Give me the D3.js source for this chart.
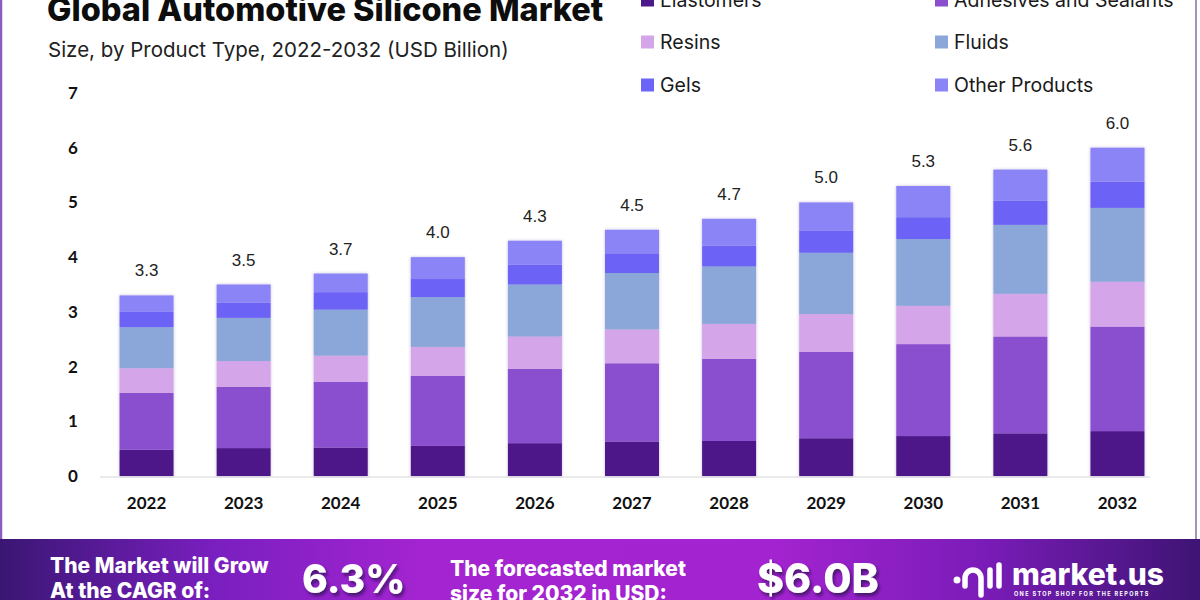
<!DOCTYPE html>
<html>
<head>
<meta charset="utf-8">
<script src="https://cdn.jsdelivr.net/npm/d3@7"></script>
<style>
  html, body { margin: 0; padding: 0; background: #fff; }
  svg { display: block; }
</style>
</head>
<body>
<svg id="chart" width="1200" height="600"></svg>
<script>
// ---------- DATA ----------
const years = ["2022","2023","2024","2025","2026","2027","2028","2029","2030","2031","2032"];
const totals = [3.3, 3.5, 3.7, 4.0, 4.3, 4.5, 4.7, 5.0, 5.3, 5.6, 6.0];
const elastomers = [0.48, 0.51, 0.52, 0.55, 0.60, 0.63, 0.64, 0.69, 0.73, 0.78, 0.82];
const adhesives  = [1.04, 1.12, 1.20, 1.28, 1.36, 1.43, 1.50, 1.58, 1.68, 1.77, 1.91];
const resins     = [0.45, 0.47, 0.48, 0.53, 0.59, 0.62, 0.64, 0.69, 0.70, 0.78, 0.82];
const fluids     = [0.75, 0.79, 0.84, 0.91, 0.95, 1.03, 1.05, 1.12, 1.22, 1.26, 1.35];
const gels       = [0.28, 0.28, 0.32, 0.33, 0.36, 0.36, 0.38, 0.40, 0.40, 0.44, 0.48];
const others     = [0.30, 0.33, 0.34, 0.40, 0.44, 0.43, 0.49, 0.52, 0.57, 0.57, 0.62];
const seriesNames = ["Elastomers", "Adhesives and Sealants", "Resins", "Fluids", "Gels", "Other Products"];
const seriesColors = ["#4d1889", "#8a4fcf", "#d5a5ea", "#8ba6d8", "#6c64f6", "#8b84f7"];
const yTicks = [0, 1, 2, 3, 4, 5, 6, 7];
const title = "Global Automotive Silicone Market";
const subtitle = "Size, by Product Type, 2022-2032 (USD Billion)";
const cagrText = ["The Market will Grow", "At the CAGR of:"];
const cagrValue = "6.3%";
const forecastText = ["The forecasted market", "size for 2032 in USD:"];
const forecastValue = "$6.0B";

// ---------- BUILD ----------
const seriesValues = [elastomers, adhesives, resins, fluids, gels, others];
const rows = years.map((y, i) => {
  const r = { year: y };
  seriesNames.forEach((s, k) => r[s] = seriesValues[k][i]);
  return r;
});
const stacked = d3.stack().keys(seriesNames)(rows);

const svg = d3.select("#chart");
const defs = svg.append("defs");

// banner gradient
const grad = defs.append("linearGradient").attr("id", "bannerGrad")
  .attr("x1", "0%").attr("x2", "100%").attr("y1", "0%").attr("y2", "0%");
[["0%", "#3a1673"], ["18%", "#7a1fc0"], ["35%", "#a324d0"], ["65%", "#a223cf"], ["82%", "#7a1cb8"], ["100%", "#3e1474"]]
  .forEach(([o, c]) => grad.append("stop").attr("offset", o).attr("stop-color", c));

const shadow = defs.append("filter").attr("id", "txtShadow").attr("x", "-20%").attr("y", "-20%").attr("width", "140%").attr("height", "160%");
shadow.append("feDropShadow").attr("dx", 2).attr("dy", 3).attr("stdDeviation", 1.5).attr("flood-color", "#2a0850").attr("flood-opacity", 0.7);

const barShadow = defs.append("filter").attr("id", "barShadow").attr("x", "-20%").attr("y", "-5%").attr("width", "140%").attr("height", "110%");
barShadow.append("feDropShadow").attr("dx", 0).attr("dy", 0).attr("stdDeviation", 1.5).attr("flood-color", "#5a3a9a").attr("flood-opacity", 0.35);

// scales
const x = d3.scaleBand().domain(years).range([98, 1166]).paddingInner(0.444).paddingOuter(0.222);
const y = d3.scaleLinear().domain([0, 7]).range([476, 93]);

// borders
svg.append("line").attr("x1", 1).attr("x2", 1).attr("y1", 0).attr("y2", 540)
  .attr("stroke", "#8e5cc0").attr("stroke-width", 2.5);
svg.append("line").attr("x1", 1196).attr("x2", 1196).attr("y1", 0).attr("y2", 540)
  .attr("stroke", "#8a6fa6").attr("stroke-width", 1.5);

// title
svg.append("text").attr("x", 47).attr("y", 21)
  .attr("font-family", "Inter, 'Open Sans', sans-serif").attr("font-weight", 800)
  .attr("font-size", 32.5).attr("fill", "#0d0d0d").text(title);
svg.append("text").attr("x", 48).attr("y", 57)
  .attr("font-family", "Inter, 'Open Sans', sans-serif").attr("font-weight", 400)
  .attr("font-size", 20.5).attr("fill", "#222").text(subtitle);

// legend
const legendPos = [[641, 0], [935, 0], [641, 42], [935, 42], [641, 85], [935, 85]];
const legend = svg.append("g");
seriesNames.forEach((s, i) => {
  const [lx, ly] = legendPos[i];
  legend.append("rect").attr("x", lx).attr("y", ly - 6.5).attr("width", 13).attr("height", 13)
    .attr("fill", seriesColors[i]);
  legend.append("text").attr("x", lx + 19).attr("y", ly).attr("dy", "0.35em")
    .attr("font-family", "Inter, 'Open Sans', sans-serif").attr("font-size", 19.5)
    .attr("fill", "#1a1a1a").text(s);
});

// y axis labels
const yAxis = d3.axisLeft(y).tickValues(yTicks).tickSize(0).tickPadding(0).tickFormat(d3.format("d"));
const yg = svg.append("g").attr("transform", "translate(79,0)").call(yAxis);
yg.select(".domain").remove();
yg.selectAll("text").attr("font-family", "Lato, 'Open Sans', sans-serif").attr("font-weight", 700)
  .attr("font-size", 17).attr("fill", "#111").attr("text-anchor", "middle").attr("x", -6);

// baseline
svg.append("line").attr("x1", 100).attr("x2", 1150).attr("y1", 477).attr("y2", 477)
  .attr("stroke", "#d6d6d6").attr("stroke-width", 1);

// x axis labels
const xAxis = d3.axisBottom(x).tickSize(0).tickPadding(0);
const xg = svg.append("g").attr("transform", "translate(0,497)").call(xAxis);
xg.select(".domain").remove();
xg.selectAll("text").attr("font-family", "Lato, 'Open Sans', sans-serif").attr("font-weight", 700)
  .attr("font-size", 17).attr("fill", "#111");

// bars
const barsG = svg.append("g").attr("filter", "url(#barShadow)");
barsG.selectAll("g.series").data(stacked).join("g").attr("class", "series")
  .attr("fill", (d, i) => seriesColors[i])
  .selectAll("rect").data(d => d).join("rect")
  .attr("x", d => x(d.data.year))
  .attr("width", x.bandwidth())
  .attr("y", d => y(d[1]))
  .attr("height", d => y(d[0]) - y(d[1]));

// totals
svg.append("g").selectAll("text").data(years).join("text")
  .attr("x", d => x(d) + x.bandwidth() / 2)
  .attr("y", (d, i) => y(totals[i]) - 19)
  .attr("text-anchor", "middle")
  .attr("font-family", "'Liberation Sans', Arial, sans-serif").attr("font-size", 17)
  .attr("fill", "#222").text((d, i) => d3.format(".1f")(totals[i]));

// banner
svg.append("rect").attr("x", 0).attr("y", 539).attr("width", 1200).attr("height", 61).attr("fill", "url(#bannerGrad)");
const bannerFont = "Inter, 'Open Sans', sans-serif";
cagrText.forEach((t, i) => svg.append("text").attr("x", 50).attr("y", 573 + i * 25)
  .attr("font-family", bannerFont).attr("font-weight", 800).attr("font-size", 21).attr("fill", "#fff").text(t));
forecastText.forEach((t, i) => svg.append("text").attr("x", 450).attr("y", 576 + i * 25)
  .attr("font-family", bannerFont).attr("font-weight", 800).attr("font-size", 21).attr("fill", "#fff").text(t));
svg.append("text").attr("x", 302).attr("y", 593).attr("font-family", bannerFont).attr("font-weight", 800)
  .attr("font-size", 39).attr("fill", "#fff").attr("filter", "url(#txtShadow)").text(cagrValue);
svg.append("text").attr("x", 757).attr("y", 593).attr("font-family", bannerFont).attr("font-weight", 800)
  .attr("font-size", 41).attr("fill", "#fff").attr("filter", "url(#txtShadow)").text(forecastValue);

// logo
const logo = svg.append("g").attr("fill", "none").attr("stroke", "#fff").attr("stroke-linecap", "round");
logo.append("circle").attr("cx", 957).attr("cy", 580).attr("r", 3.5).attr("fill", "#fff").attr("stroke", "none");
logo.append("path").attr("d", "M965,586 L965,578 A8,8 0 0 1 981,578 L981,595").attr("stroke-width", 5.5);
logo.append("line").attr("x1", 990).attr("x2", 990).attr("y1", 570).attr("y2", 586).attr("stroke-width", 5.5);
logo.append("line").attr("x1", 999).attr("x2", 999).attr("y1", 565).attr("y2", 586).attr("stroke-width", 5.5);
svg.append("text").attr("x", 1012).attr("y", 585).attr("font-family", bannerFont).attr("font-weight", 800)
  .attr("font-size", 30).attr("fill", "#fff").text("market.us");
svg.append("text").attr("x", 1014).attr("y", 596).attr("font-family", bannerFont).attr("font-weight", 700)
  .attr("font-size", 5.5).attr("letter-spacing", 1.35).attr("fill", "#fff").text("ONE STOP SHOP FOR THE REPORTS");
</script>
</body>
</html>
